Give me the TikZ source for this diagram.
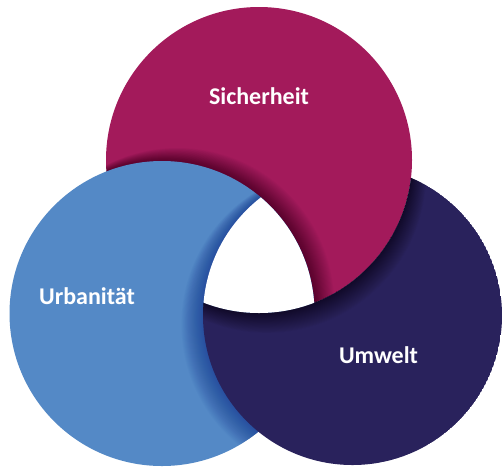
\documentclass[tikz,border=0pt]{standalone}
\usepackage{fontspec}
\setmainfont{Carlito}
\definecolor{mag}{RGB}{163,26,91}
\definecolor{blu}{RGB}{84,137,198}
\definecolor{nav}{RGB}{41,34,92}
\definecolor{bshad}{RGB}{16,50,140}
\newcommand\mkshadow[8]{%
  \foreach \k in {1,...,24}{%
    \fill[#7, opacity=#8] ({#1+\k*#4/24},{#2+\k*#5/24}) circle[radius={(#3+\k*#6/24)*1pt}];
  }}
\tikzset{lbl/.style={text=white, font=\bfseries\fontsize{24}{28}\selectfont, anchor=base, inner sep=0pt}}
\begin{document}
\begin{tikzpicture}[x=1pt,y=-1pt]
\useasboundingbox (0,0) rectangle (502,467);
\fill[white] (0,0) rectangle (502,467);
% magenta (Sicherheit)
\fill[mag] (259,160) circle[radius=153pt];
\begin{scope}
  \clip (259,160) circle[radius=153pt];
  \mkshadow{162}{313.5}{152.5}{15.6}{-9}{4}{black}{0.02}
\end{scope}
% blue (Urbanitaet)
\fill[blu] (162,313.5) circle[radius=152.5pt];
\begin{scope}
  \clip (162,313.5) circle[radius=152.5pt];
  \mkshadow{352.5}{315.5}{149.5}{-15.6}{9}{6}{bshad}{0.03}
\end{scope}
% navy (Umwelt)
\begin{scope}
  \clip (352.5,315.5) circle[radius=149.5pt];
  \begin{scope}[even odd rule]
    \clip (-10,-10) rectangle (512,477) (259,160) circle[radius=153pt];
    \fill[nav] (352.5,315.5) circle[radius=149.5pt];
    \mkshadow{259}{160}{153}{8}{13.9}{6}{black}{0.025}
  \end{scope}
\end{scope}
% white centre
\begin{scope}
  \clip (162,313.5) circle[radius=152.5pt];
  \clip (352.5,315.5) circle[radius=149.5pt];
  \fill[white] (259,160) circle[radius=153pt];
\end{scope}
\node[lbl] (sich) at (259,104) {Sicherheit};
\node[lbl] (urb) at (87,304.5) {Urbanität};
\node[lbl] (umw) at (378.5,363.3) {Umwelt};
\end{tikzpicture}
\end{document}
